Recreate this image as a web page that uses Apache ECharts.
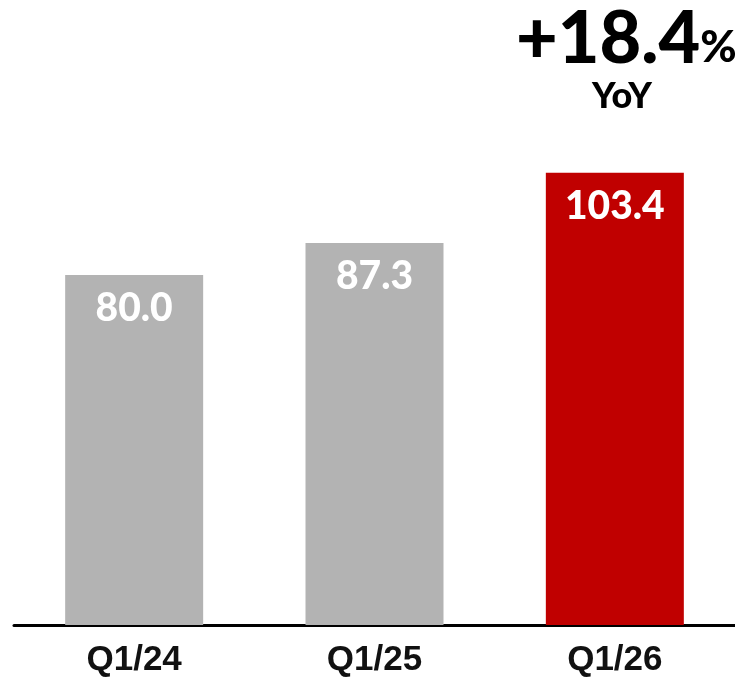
<!DOCTYPE html>
<html>
<head>
<meta charset="utf-8">
<script src="https://cdn.jsdelivr.net/npm/echarts@6/dist/echarts.min.js"></script>
<style>
  html, body { margin: 0; padding: 0; background: #fff; }
  #chart { width: 735px; height: 678px; }
</style>
</head>
<body>
<div id="chart"></div>
<script>
// Quarterly values
const quarters = ['Q1/24', 'Q1/25', 'Q1/26'];
const values = [80.0, 87.3, 103.4];
const barColors = ['#b3b3b3', '#b3b3b3', '#c00000'];
const growthText = '+18.4';
const growthUnit = '%';
const growthCaption = 'YoY';

const chart = echarts.init(document.getElementById('chart'), null, { renderer: 'canvas' });

chart.setOption({
  backgroundColor: '#ffffff',
  animation: false,
  grid: { left: 14, top: 100, bottom: 50, width: 725, containLabel: false },
  xAxis: {
    type: 'category',
    data: quarters,
    axisLine: { show: true, lineStyle: { color: '#000', width: 3 } },
    axisTick: { show: false },
    axisLabel: {
      margin: 18,
      color: '#111',
      fontFamily: '"Liberation Sans", Arial, sans-serif',
      fontWeight: 'bold',
      fontSize: 35
    }
  },
  yAxis: {
    type: 'value',
    min: 0,
    max: 120,
    show: false,
    splitLine: { show: false }
  },
  series: [{
    type: 'bar',
    barWidth: 138,
    data: values.map((v, i) => ({ value: v, itemStyle: { color: barColors[i] } })),
    label: {
      show: true,
      position: 'insideTop',
      distance: 14,
      color: '#fff',
      fontFamily: 'Lato, sans-serif',
      fontWeight: 900,
      fontSize: 39,
      formatter: p => p.value.toFixed(1)
    }
  }],
  graphic: [
    {
      type: 'text',
      left: 516,
      top: 4,
      style: {
        text: '{n|' + growthText + '}{u|' + growthUnit + '}',
        rich: {
          n: { fontFamily: 'Lato, sans-serif', fontWeight: 900, fontSize: 72, fill: '#000', verticalAlign: 'bottom' },
          u: { fontFamily: 'Lato, sans-serif', fontWeight: 900, fontSize: 44, fill: '#000', verticalAlign: 'bottom', padding: [0, 0, 6, 0] }
        }
      }
    },
    {
      type: 'text',
      x: 622,
      y: 96,
      style: {
        text: growthCaption,
        fontFamily: 'Lato, sans-serif',
        fontWeight: 900,
        fontSize: 36,
        fill: '#000',
        align: 'center',
        verticalAlign: 'middle'
      }
    }
  ]
});
</script>
</body>
</html>
